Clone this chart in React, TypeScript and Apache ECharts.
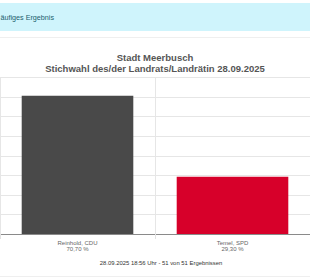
import React, { useEffect, useRef } from "react";
import * as echarts from "echarts";

const categories = ["Reinhold, CDU", "Temel, SPD"];
const shares = [70.7, 29.3];
const barColors = ["#494949", "#d7002a"];
const titleLines = ["Stadt Meerbusch", "Stichwahl des/der Landrats/Landrätin 28.09.2025"];
const footerText = "28.09.2025 18:56 Uhr - 51 von 51 Ergebnissen";
const bannerText = "äufiges Ergebnis";
const yMin = 0;
const yMax = 80;
const yStep = 10;

const fmt = (v: number) => v.toFixed(2).replace(".", ",") + " %";
const FF = "'Liberation Sans', Arial, sans-serif";

export default function App() {
  const ref = useRef<HTMLDivElement>(null);
  useEffect(() => {
    const chart = echarts.init(ref.current!, null, { renderer: "svg" });
    chart.setOption({
      animation: false,
      backgroundColor: "#ffffff",
      textStyle: { fontFamily: FF },
      title: {
        text: titleLines[0],
        subtext: titleLines[1],
        left: "center",
        top: 47,
        itemGap: 1.5,
        textStyle: { fontSize: 9.5, lineHeight: 10, fontWeight: "bold", color: "#555555", fontFamily: FF },
        subtextStyle: { fontSize: 9.5, lineHeight: 10, fontWeight: "bold", color: "#555555", fontFamily: FF },
      },
      grid: { left: -1, right: -14, top: 77.5, bottom: 46 },
      xAxis: {
        type: "category",
        data: categories,
        axisLine: { lineStyle: { color: "#8a8a8a", width: 1 } },
        axisTick: { show: true, length: 5, lineStyle: { color: "#e3e3e3" } },
        splitLine: { show: true, lineStyle: { color: "#e6e6e6" } },
        axisLabel: {
          margin: 6,
          fontSize: 6,
          lineHeight: 6,
          color: "#666666",
          formatter: (name: string, idx: number) => name + "\n" + fmt(shares[idx]),
        },
      },
      yAxis: {
        type: "value",
        min: yMin,
        max: yMax,
        interval: yStep,
        axisLabel: { show: false },
        axisLine: { show: false },
        axisTick: { show: false },
        splitLine: { lineStyle: { color: "#e6e6e6" } },
      },
      series: [
        {
          type: "bar",
          barWidth: "72%",
          data: shares.map((v, i) => ({ value: v, itemStyle: { color: barColors[i] } })),
        },
      ],
      graphic: [
        { type: "rect", shape: { x: 0, y: 3, width: 310, height: 28 }, style: { fill: "#cff4fc" }, silent: true },
        {
          type: "text",
          x: 0.5,
          y: 17,
          style: {
            text: bannerText,
            fill: "#1d5f6e",
            font: "7.2px " + FF,
            textVerticalAlign: "middle",
          },
        },
        { type: "rect", shape: { x: 0, y: 37, width: 310, height: 1 }, style: { fill: "#efefef" }, silent: true },
        { type: "rect", shape: { x: 0, y: 276, width: 310, height: 1 }, style: { fill: "#efefef" }, silent: true },
        {
          type: "text",
          x: 161,
          y: 263,
          style: {
            text: footerText,
            fill: "#333333",
            font: "5.9px " + FF,
            textAlign: "center",
            textVerticalAlign: "middle",
          },
        },
      ],
    });
    return () => chart.dispose();
  }, []);
  return <div ref={ref} style={{ position: "fixed", left: 0, top: 0, width: 310, height: 280 }} />;
}
